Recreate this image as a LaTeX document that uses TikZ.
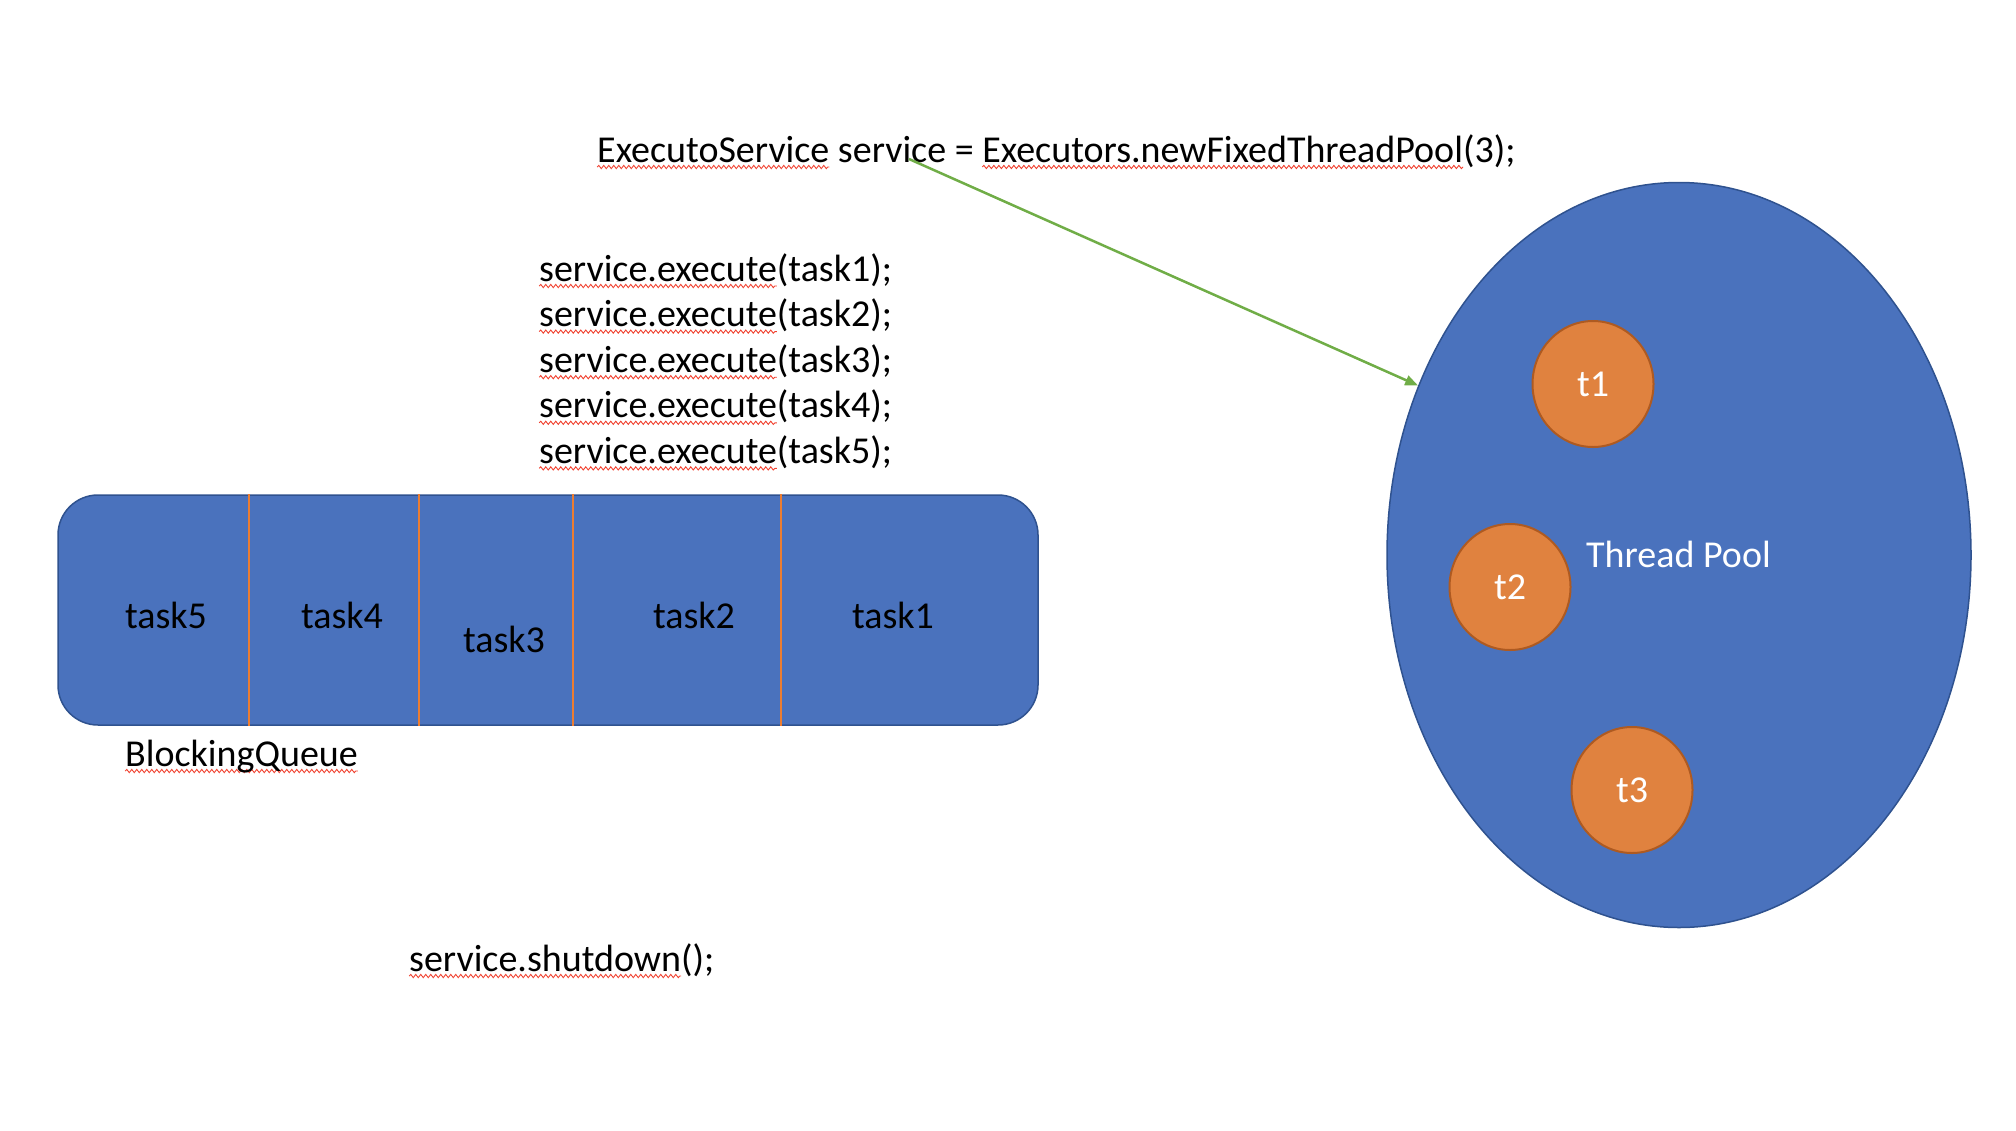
\documentclass[tikz,border=0pt]{standalone}
\usepackage{fontspec}
\setmainfont{Carlito}
\usetikzlibrary{shapes.geometric, arrows.meta, decorations.pathmorphing, positioning}

\definecolor{poolblue}{HTML}{4A72BD}
\definecolor{poolline}{HTML}{2F528F}
\definecolor{threadorange}{HTML}{E0823F}
\definecolor{threadline}{HTML}{AE5A21}
\definecolor{divorange}{HTML}{ED7D31}
\definecolor{arrowgreen}{HTML}{70AD47}
\definecolor{spellred}{HTML}{F0412F}

% red spell-check wave under a word
\newsavebox{\spellbox}
\newcommand{\spell}[1]{\sbox{\spellbox}{#1}\rlap{\tikz[overlay, baseline = 0pt]
    \draw[spellred, line width = 0.9pt, decorate,
        decoration = {snake, amplitude = 1.6pt, segment length = 5pt}]
        (0pt, -5pt) -- (\wd\spellbox, -5pt);}\usebox{\spellbox}}

\begin{document}
\begin{tikzpicture}[x = 1pt, y = -1pt,
    code/.style = {anchor = base west, inner sep = 0pt, font = \fontsize{38}{45.6}\selectfont},
    tasklabel/.style = {anchor = base, inner sep = 0pt, font = \fontsize{38}{45.6}\selectfont},
    queue/.style = {draw = poolline, fill = poolblue, line width = 1.5pt, rounded corners = 40pt,
        minimum width = 980pt, minimum height = 230pt},
    divider/.style = {divorange, line width = 2pt},
    pool/.style = {shape = ellipse, draw = poolline, fill = poolblue, line width = 1.5pt,
        minimum width = 584pt, minimum height = 745pt},
    thread/.style = {shape = ellipse, draw = threadline, fill = threadorange, line width = 2pt,
        minimum width = 121pt, minimum height = 126pt, text = white,
        font = \fontsize{38}{45.6}\selectfont},
    flow/.style = {arrowgreen, line width = 2.5pt, -{Triangle[length = 13pt, width = 10pt]}}]
    \useasboundingbox (0, 0) rectangle (2016, 1130);

    \node[code] (decl) at (597, 162) {\spell{ExecutoService} service = \spell{Executors.newFixedThreadPool}(3);};

    \node[code] (exec1) at (539, 281) {\spell{service.execute}(task1);};
    \foreach \i [evaluate = \i as \prev using int(\i - 1)] in {2, ..., 5}
        \node[code, below = 45.6pt of exec\prev.base west, anchor = base west] (exec\i)
            {\spell{service.execute}(task\i);};

    % the queue
    \node[queue] (queue) at (548, 610) {};
    \foreach \x in {249, 419, 573, 781}
        \draw[divider] (\x, 0 |- queue.north) -- (\x, 0 |- queue.south);
    \node[tasklabel] (task5) at (166, 628) {task5};
    \node[tasklabel] (task4) at (342, 628) {task4};
    \node[tasklabel] (task3) at (504, 652) {task3};
    \node[tasklabel] (task2) at (694, 628) {task2};
    \node[tasklabel] (task1) at (893, 628) {task1};
    \node[code] (qname) at (125, 766) {\spell{BlockingQueue}};

    \node[code] (stop) at (409, 971) {\spell{service.shutdown}();};

    % the pool
    \node[pool] (pool) at (1679, 555) {};
    \node[code, text = white] (poolname) at (1586, 567) {Thread Pool};
    \node[thread] (t1) at (1593, 384) {t1};
    \node[thread] (t2) at (1510, 587) {t2};
    \node[thread] (t3) at (1632, 790) {t3};

    \coordinate (from) at (909, 159);
    \draw[flow] (from) -- (pool.147);
\end{tikzpicture}
\end{document}
